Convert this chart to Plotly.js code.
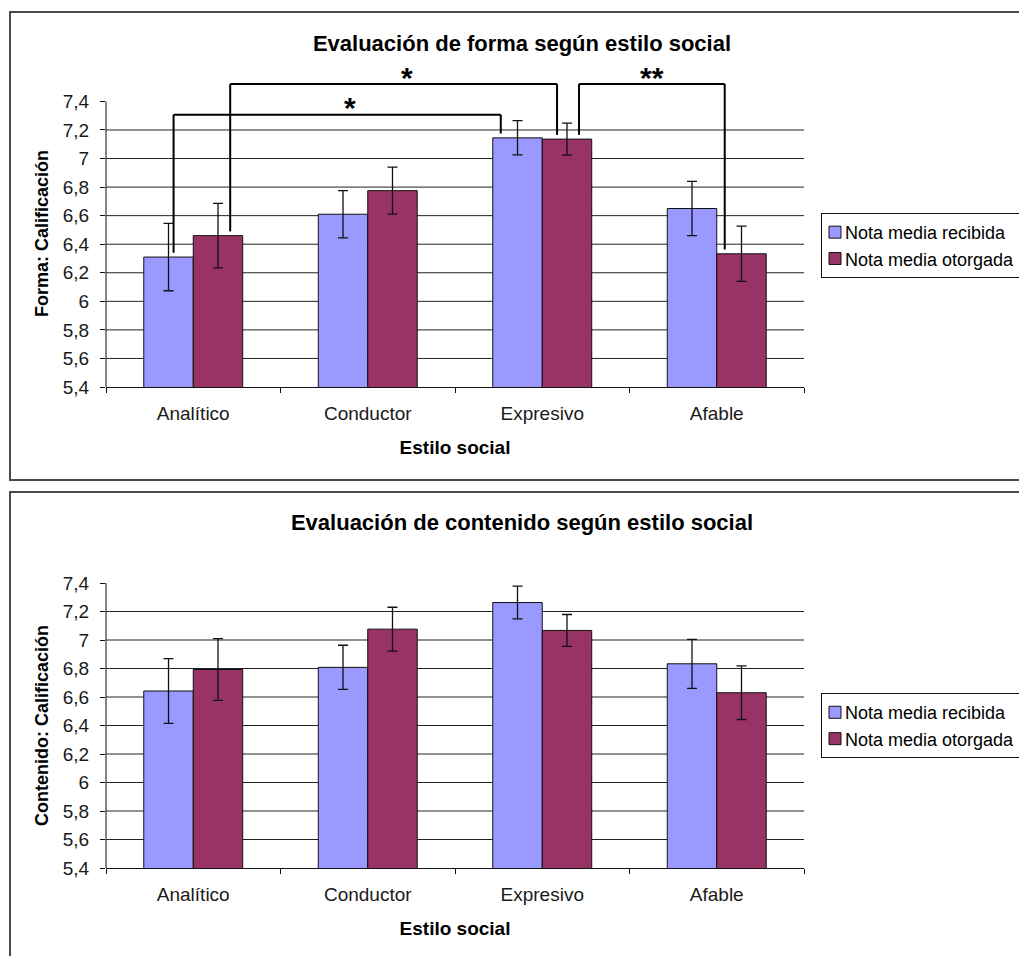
<!DOCTYPE html>
<html><head><meta charset="utf-8">
<script src="https://cdn.plot.ly/plotly-3.0.1.min.js"></script>
<style>
html,body{margin:0;padding:0;background:#fff;overflow:hidden;width:1019px;height:956px;}
.chart{position:absolute;left:0;width:1019px;}
.frame{position:absolute;border:2px solid #4a4a4a;pointer-events:none;}
</style></head><body>
<div id="c1" class="chart" style="top:0;height:481px"></div>
<div id="c2" class="chart" style="top:481px;height:475px"></div>
<div class="frame" style="left:9px;top:11px;width:1030px;height:466px"></div>
<div class="frame" style="left:9px;top:491px;width:1030px;height:500px"></div>
<script>
// ---- data ----
const categories = ['Analítico', 'Conductor', 'Expresivo', 'Afable'];
const seriesNames = ['Nota media recibida', 'Nota media otorgada'];
const formaRecibida = [6.31, 6.61, 7.145, 6.65];
const formaRecibidaErr = [0.236, 0.165, 0.12, 0.19];
const formaOtorgada = [6.46, 6.775, 7.136, 6.333];
const formaOtorgadaErr = [0.226, 0.165, 0.112, 0.193];
const contenidoRecibida = [6.642, 6.808, 7.263, 6.833];
const contenidoRecibidaErr = [0.227, 0.155, 0.115, 0.172];
const contenidoOtorgada = [6.793, 7.076, 7.067, 6.63];
const contenidoOtorgadaErr = [0.217, 0.154, 0.112, 0.188];
const yTicks = [5.4, 5.6, 5.8, 6.0, 6.2, 6.4, 6.6, 6.8, 7.0, 7.2, 7.4];
// significance brackets: [category, series] pairs
const formaSignificance = [
  {from: [0, 0], to: [2, 0], label: '*'},
  {from: [0, 1], to: [2, 1], label: '*'},
  {from: [2, 1], to: [3, 1], label: '**'}
];

// ---- style ----
const FONT = 'Liberation Sans, Arial, sans-serif';
const colors = ['#9999FF', '#993366'];
const BARGAP = 0.433;
const bracketStyle = [
  {dxFrom: 0.029, dxTo: -0.096, level: 7.307, xshift: 13},
  {dxFrom: 0.07, dxTo: -0.057, level: 7.522, xshift: 13},
  {dxFrom: 0.069, dxTo: -0.096, level: 7.522, xshift: 0}
];

function tweakLegend(gd) {
  gd.querySelectorAll('.legend .traces').forEach(tr => {
    const t = tr.querySelector('.legendtext');
    if (t) t.setAttribute('x', 23);
    const p = tr.querySelector('.legendpoints');
    if (p) p.setAttribute('transform', 'translate(-7,0) ' + (p.getAttribute('transform') || ''));
  });
}

function build(id, title, ytitle, rec, recErr, oto, otoErr, sig, geo) {
  const vals = [rec, oto];
  const errs = [recErr, otoErr];
  const traces = vals.map((v, i) => ({
    type: 'bar', name: seriesNames[i], x: categories, y: v,
    marker: {color: colors[i], line: {color: '#111', width: 1}},
    error_y: {type: 'data', array: errs[i], visible: true, color: '#111', thickness: 1.3, width: 5}
  }));
  const shapes = [];
  yTicks.slice(1, -1).forEach(t => shapes.push({
    type: 'line', xref: 'paper', yref: 'y', x0: 0, x1: 1, y0: t, y1: t,
    line: {color: '#222', width: 1}, layer: 'below'
  }));
  shapes.push({type: 'line', xref: 'paper', yref: 'y', x0: 0, x1: 0,
    y0: yTicks[0], y1: yTicks[yTicks.length - 1], line: {color: '#111', width: 1}});
  const annotations = [];
  const half = (1 - BARGAP) / 4;
  (sig || []).forEach((s, k) => {
    const st = bracketStyle[k];
    const xA = s.from[0] + (s.from[1] === 0 ? -half : half) + st.dxFrom;
    const xB = s.to[0] + (s.to[1] === 0 ? -half : half) + st.dxTo;
    const yA = vals[s.from[1]][s.from[0]] + 0.03;
    const yB = vals[s.to[1]][s.to[0]] + 0.03;
    const ln = {color: '#000', width: 2};
    shapes.push({type: 'line', xref: 'x', yref: 'y', x0: xA, x1: xA, y0: yA, y1: st.level, line: ln});
    shapes.push({type: 'line', xref: 'x', yref: 'y', x0: xA, x1: xB, y0: st.level, y1: st.level, line: ln});
    shapes.push({type: 'line', xref: 'x', yref: 'y', x0: xB, x1: xB, y0: st.level, y1: yB, line: ln});
    annotations.push({xref: 'x', yref: 'y', x: (xA + xB) / 2, y: st.level, text: s.label,
      showarrow: false, yanchor: 'middle', xanchor: 'center', xshift: st.xshift, yshift: 7,
      font: {family: FONT, size: 30, color: '#000', weight: 'bold'}});
  });
  const layout = {
    width: 1019, height: geo.h,
    margin: {l: 106, r: 215, t: geo.t, b: geo.b, autoexpand: false},
    paper_bgcolor: 'rgba(0,0,0,0)', plot_bgcolor: 'rgba(0,0,0,0)',
    separators: ',.',
    barmode: 'group', bargap: BARGAP, bargroupgap: 0,
    showlegend: true,
    font: {family: FONT, color: '#111'},
    title: {text: title, x: 522 / 1019, xref: 'container', xanchor: 'center',
      y: 1 - geo.ty / geo.h, yref: 'container', yanchor: 'middle',
      font: {family: FONT, size: 22, color: '#000', weight: 'bold'}},
    xaxis: {type: 'category', showline: true, linecolor: '#111', linewidth: 1,
      ticks: 'outside', tickson: 'boundaries', ticklen: 5, tickcolor: '#111',
      showgrid: false, zeroline: false, ticklabelstandoff: 9,
      tickfont: {family: FONT, size: 19, color: '#1a1a1a'},
      title: {text: 'Estilo social', standoff: 17, font: {family: FONT, size: 19, color: '#000', weight: 'bold'}}},
    yaxis: {range: [5.4, geo.ymax], tickvals: yTicks, showline: false, showgrid: false, zeroline: false,
      ticks: 'outside', ticklen: 5, tickcolor: '#111', ticklabelstandoff: 7,
      tickfont: {family: FONT, size: 19, color: '#1a1a1a'},
      title: {text: ytitle, standoff: 9, font: {family: FONT, size: 18, color: '#000', weight: 'bold'}}},
    legend: {x: (821 - 106) / 698, xanchor: 'left', y: geo.ly, yanchor: 'top',
      bordercolor: '#111', borderwidth: 1, bgcolor: '#fff',
      font: {family: FONT, size: 18, color: '#000'}, traceorder: 'normal'},
    shapes: shapes, annotations: annotations
  };
  return Plotly.newPlot(id, traces, layout, {staticPlot: true}).then(gd => tweakLegend(gd));
}

// top chart: 7.4 at y=101.7, 5.4 at 386.7 (142.5 px/unit)
build('c1', 'Evaluación de forma según estilo social', 'Forma: Calificación',
  formaRecibida, formaRecibidaErr, formaOtorgada, formaOtorgadaErr, formaSignificance,
  {h: 481, ymax: 7.55, t: 80.3, b: 94.3, ty: 43, ly: 1 - (213 - 80.3) / 306.4});
// bottom chart (div starts at 481): 7.4 at 101.7, 5.4 at 387.3
build('c2', 'Evaluación de contenido según estilo social', 'Contenido: Calificación',
  contenidoRecibida, contenidoRecibidaErr, contenidoOtorgada, contenidoOtorgadaErr, null,
  {h: 475, ymax: 7.4, t: 101.7, b: 87.7, ty: 41, ly: 1 - (212 - 101.7) / 285.6});
</script>
</body></html>
